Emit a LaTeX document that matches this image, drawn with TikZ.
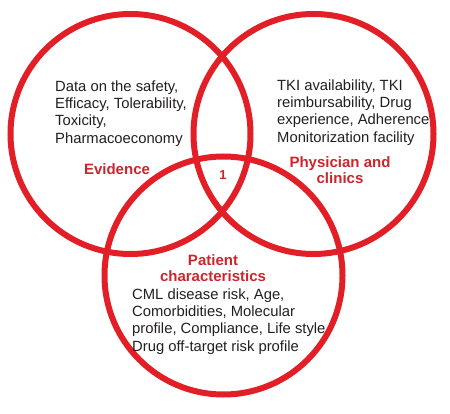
\documentclass[tikz,border=0pt]{standalone}
\usepackage{fontspec}
\setmainfont{Liberation Sans}
\definecolor{ringred}{RGB}{226,30,38}
\definecolor{labelred}{RGB}{204,38,44}
\definecolor{bodytext}{RGB}{35,31,32}
\begin{document}
\begin{tikzpicture}[x=1pt,y=-1pt,
  ring/.style={circle,draw=ringred,line width=6pt,inner sep=0pt,outer sep=0pt},
  bodyblock/.style={inner sep=0pt,align=left,anchor=north west,text=bodytext,
    font=\fontsize{14.8}{17.3}\selectfont},
  setlabel/.style={inner sep=0pt,align=center,text=labelred,
    font=\fontsize{15}{16.6}\selectfont\bfseries}]
\fill[white] (0,0) rectangle (450,414);
\useasboundingbox (0,0) rectangle (450,414);
\node[ring,minimum size=240pt] (evc) at (130.5,134) {};
\node[ring,minimum size=240pt] (phc) at (313.5,134) {};
\node[ring,minimum size=238pt] (pac) at (223.5,275.5) {};
\node[bodyblock] (evt) at (55,80.3) {Data on the safety,\\Efficacy, Tolerability,\\Toxicity,\\Pharmacoeconomy};
\node[bodyblock] (pht) at (277,79.3) {TKI availability, TKI\\reimbursability, Drug\\experience, Adherence\\Monitorization facility};
\node[bodyblock] (pat) at (132,288.3) {CML disease risk, Age,\\Comorbidities, Molecular\\profile, Compliance, Life style\\Drug off-target risk profile};
\node[setlabel,anchor=base] (evl) at (117,175) {Evidence};
\node[setlabel,anchor=north] (phl) at (340,156) {Physician and\\clinics};
\node[setlabel,anchor=north] (pal) at (213,254) {Patient\\characteristics};
\node[setlabel,anchor=base,font=\fontsize{13}{15}\selectfont\bfseries] (one) at (223,179.5) {1};
\end{tikzpicture}
\end{document}
